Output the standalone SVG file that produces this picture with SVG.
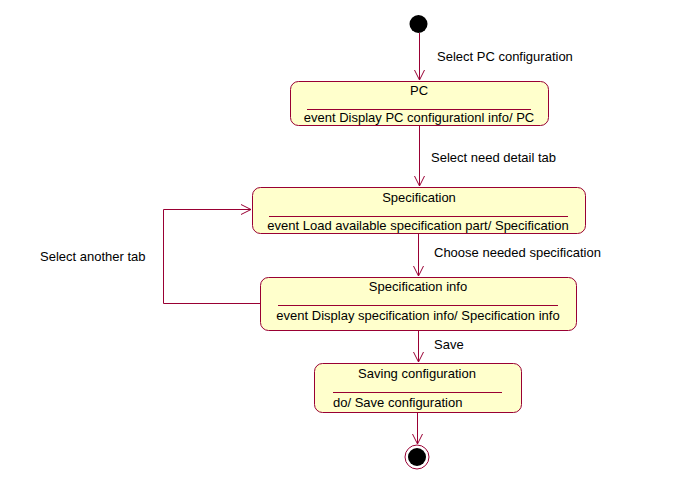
<svg xmlns="http://www.w3.org/2000/svg" width="685" height="496" viewBox="0 0 685 496">
<style>
text{font-family:"Liberation Sans",Arial,sans-serif;font-size:13px;fill:#000}
.st{fill:#ffffcc;stroke:#990033;stroke-width:1}
.sep{stroke:#990033;stroke-width:1}
.c{fill:none;stroke:#990033;stroke-width:1}
.m{text-anchor:middle}
</style>
<defs>
<marker id="a" markerWidth="12" markerHeight="12" refX="10" refY="6" orient="auto" markerUnits="userSpaceOnUse">
<path d="M0,1 L10,6 L0,11" fill="none" stroke="#990033" stroke-width="1"/>
</marker>
</defs>
<rect width="685" height="496" fill="#fff"/>
<g id="connectors">
<path class="c" d="M419.5,33 V80" marker-end="url(#a)"/>
<path class="c" d="M419.5,125 V186" marker-end="url(#a)"/>
<path class="c" d="M418.5,233 V276" marker-end="url(#a)"/>
<path class="c" d="M418.5,330 V362" marker-end="url(#a)"/>
<path class="c" d="M417.5,412 V444" marker-end="url(#a)"/>
<path class="c" d="M260,303.5 H163.5 V209.5 H251" marker-end="url(#a)"/>
<text x="437" y="61">Select PC configuration</text>
<text x="431" y="162">Select need detail tab</text>
<text x="434" y="257">Choose needed specification</text>
<text x="434" y="349">Save</text>
<text x="40" y="261">Select another tab</text>
</g>
<g id="initial">
<circle cx="418.5" cy="24" r="9" fill="#000"/>
</g>
<g id="pc">
<rect class="st" x="290.5" y="81.5" width="258" height="44" rx="8"/>
<line class="sep" x1="307" y1="109.5" x2="531" y2="109.5"/>
<text class="m" x="419" y="95">PC</text>
<text class="m" x="419" y="122">event Display PC configurationl info/ PC</text>
</g>
<g id="specification">
<rect class="st" x="252.5" y="187.5" width="333" height="46" rx="8"/>
<line class="sep" x1="269" y1="216.5" x2="568" y2="216.5"/>
<text class="m" x="419" y="202">Specification</text>
<text class="m" x="418" y="230">event Load available specification part/ Specification</text>
</g>
<g id="specinfo">
<rect class="st" x="260.5" y="277.5" width="316" height="53" rx="8"/>
<line class="sep" x1="278" y1="305.5" x2="558" y2="305.5"/>
<text class="m" x="418" y="291">Specification info</text>
<text class="m" x="418" y="320">event Display specification info/ Specification info</text>
</g>
<g id="saving">
<rect class="st" x="314.5" y="363.5" width="207" height="49" rx="8"/>
<line class="sep" x1="333" y1="392.5" x2="502" y2="392.5"/>
<text class="m" x="417" y="378">Saving configuration</text>
<text x="333" y="407">do/ Save configuration</text>
</g>
<g id="final">
<circle cx="417" cy="457" r="12" fill="#fff" stroke="#990033"/>
<circle cx="417" cy="457" r="9" fill="#000"/>
</g>
</svg>
